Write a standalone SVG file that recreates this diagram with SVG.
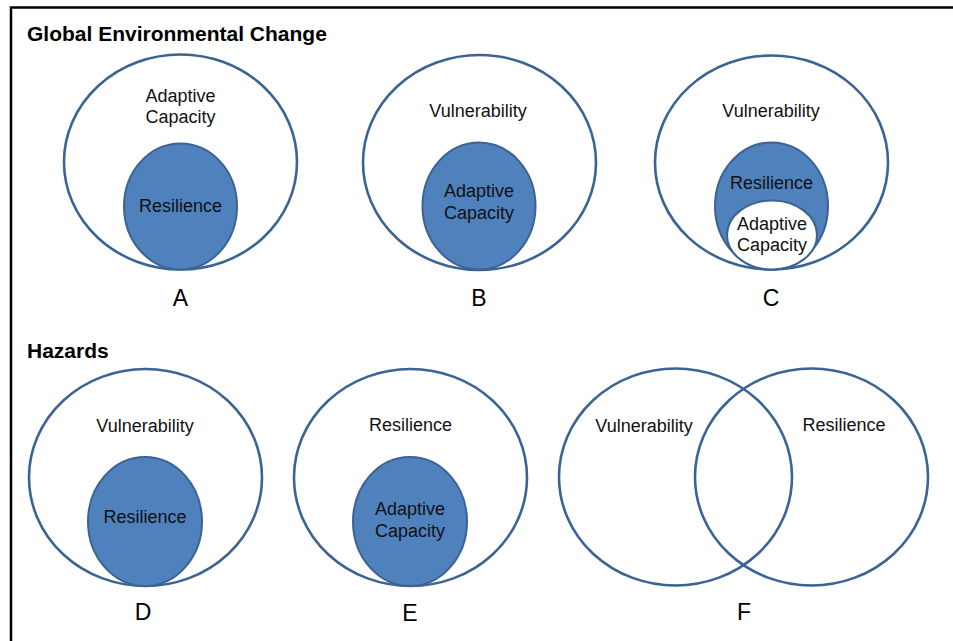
<svg xmlns="http://www.w3.org/2000/svg" width="953" height="641" viewBox="0 0 953 641">
<style>
.bg{fill:#ffffff}
.frame{fill:none;stroke:#000;stroke-width:2.5}
.outer{fill:#ffffff;stroke:#3b6394;stroke-width:2.6}
.inner{fill:#4f81bd;stroke:#3b6394;stroke-width:2}
.white{fill:#ffffff;stroke:#3b6394;stroke-width:2}
.t{font-family:"Liberation Sans",Arial,sans-serif;font-size:18px;fill:#111;text-anchor:middle}
.title{font-family:"Liberation Sans",Arial,sans-serif;font-size:21px;font-weight:bold;fill:#000}
.lab{font-family:"Liberation Sans",Arial,sans-serif;font-size:23px;fill:#000;text-anchor:middle}
</style>
<rect class="bg" x="0" y="0" width="953" height="641"/>
<path class="frame" d="M 11 641 V 7.5 H 953"/>
<text class="title" x="27" y="41">Global Environmental Change</text>
<text class="title" x="27" y="358">Hazards</text>

<g id="A">
<ellipse class="outer" cx="180.5" cy="162" rx="116.5" ry="107.5"/>
<ellipse class="inner" cx="180.5" cy="206.5" rx="56.5" ry="63"/>
<text class="t" x="180.5" y="102">Adaptive</text>
<text class="t" x="180.5" y="123">Capacity</text>
<text class="t" x="180.5" y="212">Resilience</text>
<text class="lab" x="180.5" y="306">A</text>
</g>

<g id="B">
<ellipse class="outer" cx="479.5" cy="162.5" rx="116.5" ry="107.5"/>
<ellipse class="inner" cx="479" cy="206" rx="56.5" ry="63.5"/>
<text class="t" x="478" y="117">Vulnerability</text>
<text class="t" x="479" y="197">Adaptive</text>
<text class="t" x="479" y="219">Capacity</text>
<text class="lab" x="479" y="306">B</text>
</g>

<g id="C">
<ellipse class="outer" cx="771.5" cy="162.5" rx="116.5" ry="107"/>
<ellipse class="inner" cx="771.5" cy="206" rx="56.5" ry="63.5"/>
<ellipse class="white" cx="772" cy="235" rx="45" ry="34.5"/>
<text class="t" x="771" y="117">Vulnerability</text>
<text class="t" x="771.5" y="189">Resilience</text>
<text class="t" x="772" y="230">Adaptive</text>
<text class="t" x="772" y="251">Capacity</text>
<text class="lab" x="771" y="306">C</text>
</g>

<g id="D">
<ellipse class="outer" cx="145.5" cy="477.5" rx="116.5" ry="108.5"/>
<ellipse class="inner" cx="145" cy="521.5" rx="57" ry="64.5"/>
<text class="t" x="145" y="432">Vulnerability</text>
<text class="t" x="145" y="523">Resilience</text>
<text class="lab" x="143" y="620">D</text>
</g>

<g id="E">
<ellipse class="outer" cx="410.5" cy="477.5" rx="116.5" ry="108.5"/>
<ellipse class="inner" cx="410" cy="521.5" rx="57" ry="64.5"/>
<text class="t" x="410.5" y="431">Resilience</text>
<text class="t" x="410" y="515">Adaptive</text>
<text class="t" x="410" y="537">Capacity</text>
<text class="lab" x="410" y="621">E</text>
</g>

<g id="F">
<ellipse class="outer" cx="675.5" cy="477" rx="116.5" ry="108.5" style="fill:none"/>
<ellipse class="outer" cx="811.5" cy="477" rx="116.5" ry="108.5" style="fill:none"/>
<text class="t" x="644" y="432">Vulnerability</text>
<text class="t" x="844" y="431">Resilience</text>
<text class="lab" x="744" y="620">F</text>
</g>

<g id="connectors"></g>
</svg>
